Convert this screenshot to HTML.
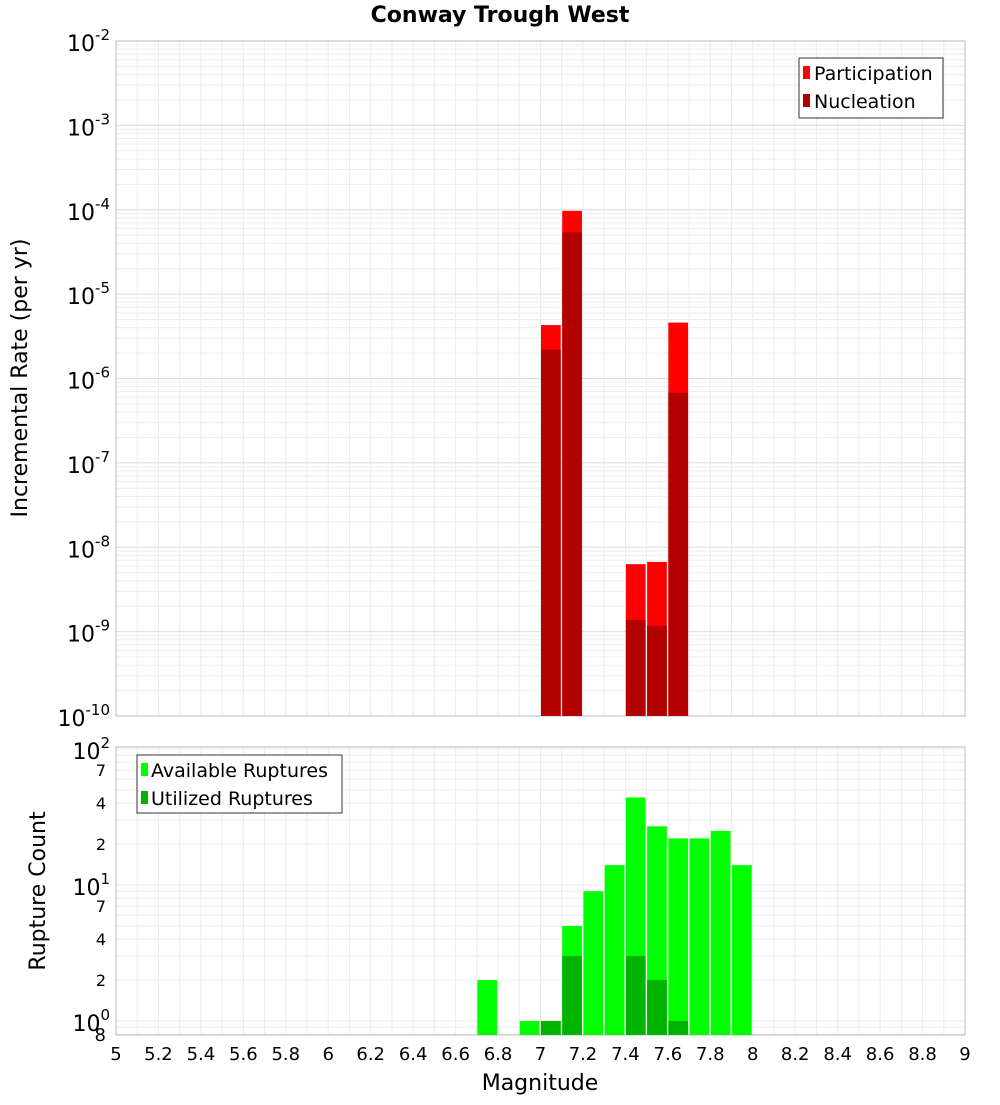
<!DOCTYPE html>
<html><head><meta charset="utf-8"><style>
body{margin:0;background:#fff;font-family:"Liberation Sans","DejaVu Sans",sans-serif}
svg text{font-family:"DejaVu Sans","Liberation Sans",sans-serif}
</style></head><body>
<svg id="c" width="1000" height="1100" xmlns="http://www.w3.org/2000/svg">
<text x="500" y="22" text-anchor="middle" font-size="22" font-weight="bold">Conway Trough West</text>
<g id="topg"></g>
<g id="botg"></g>
<text transform="translate(27,378) rotate(-90)" text-anchor="middle" font-size="22">Incremental Rate (per yr)</text>
<text transform="translate(45,891) rotate(-90)" text-anchor="middle" font-size="22">Rupture Count</text>
<text x="540" y="1090" text-anchor="middle" font-size="22">Magnitude</text>
</svg>
<script>
const rateBins=[7.0,7.1,7.4,7.5,7.6];
const participation=[4.3e-6,9.7e-5,6.3e-9,6.7e-9,4.6e-6];
const nucleation=[2.2e-6,5.4e-5,1.37e-9,1.17e-9,6.8e-7];
const countBins=[6.7,6.9,7.0,7.1,7.2,7.3,7.4,7.5,7.6,7.7,7.8,7.9];
const available=[2,1,1,5,9,14,44,27,22,22,25,14];
const utilBins=[7.0,7.1,7.4,7.5,7.6];
const utilized=[1,3,3,2,1];
const xTicks=[5,5.2,5.4,5.6,5.8,6,6.2,6.4,6.6,6.8,7,7.2,7.4,7.6,7.8,8,8.2,8.4,8.6,8.8,9];
const NS="http://www.w3.org/2000/svg";
const X0=116,X1=965;
const x=m=>X0+(m-5)/4*(X1-X0);
const T0=41,T1=716; const yT=v=>T0+(-2-Math.log10(v))/8*(T1-T0);
const B0=747,B1=1035; const yB=v=>1021-Math.log10(v)*136;
function el(p,t,a){const e=document.createElementNS(NS,t);for(const k in a)e.setAttribute(k,a[k]);p.appendChild(e);return e;}
const topG=document.getElementById('topg'),botG=document.getElementById('botg');
function grid(g,y0,y1){
  for(let i=0;i<=40;i++){const m=5+i*0.1;el(g,'line',{x1:x(m),x2:x(m),y1:y0,y2:y1,stroke:'#ebebeb','stroke-width':1});}
}
grid(topG,T0,T1);
for(let d=-10;d<-2;d++){for(let k=1;k<10;k++){const yy=yT(k*Math.pow(10,d));el(topG,'line',{x1:X0,x2:X1,y1:yy,y2:yy,stroke:k==1?'#dcdcdc':'#eeeeee','stroke-width':1});}}
el(topG,'rect',{x:X0,y:T0,width:X1-X0,height:T1-T0,fill:'none',stroke:'#bbb'});
for(let d=-10;d<=-2;d++){const t=el(topG,'text',{x:110,y:yT(Math.pow(10,d))+10,'text-anchor':'end','font-size':22});
 
 
 t.textContent='10';
 const s=el(t,'tspan',{dy:-11,'font-size':15});s.textContent=String(d);}
const bw=(X1-X0)/40;
rateBins.forEach((m,i)=>{
 const r=el(topG,'rect',{x:x(m)+0.5,y:yT(participation[i]),width:bw-1.5,height:T1-yT(participation[i]),fill:'#ff0000'});
 
 
 const n=el(topG,'rect',{x:x(m)+0.5,y:yT(nucleation[i]),width:bw-1.5,height:T1-yT(nucleation[i]),fill:'#b30000'});
 
 
});
const lg=el(topG,'g',{});


el(lg,'rect',{x:799,y:58,width:144,height:60,fill:'#fff',stroke:'#333'});
el(lg,'rect',{x:803,y:66,width:7,height:13,fill:'#ff0000'});
el(lg,'text',{x:814,y:80,'font-size':19}).textContent='Participation';
el(lg,'rect',{x:803,y:94,width:7,height:13,fill:'#b30000'});
el(lg,'text',{x:814,y:108,'font-size':19}).textContent='Nucleation';
grid(botG,B0,B1);
[0.8,0.9,1,2,3,4,5,6,7,8,9,10,20,30,40,50,60,70,80,90,100].forEach(v=>{const yy=yB(v);if(yy<B0-0.5||yy>B1)return;el(botG,'line',{x1:X0,x2:X1,y1:yy,y2:yy,stroke:'#eeeeee'});});
el(botG,'rect',{x:X0,y:B0,width:X1-X0,height:B1-B0,fill:'none',stroke:'#bbb'});
[[100,'2'],[10,'1'],[1,'0']].forEach(([v,e])=>{const t=el(botG,'text',{x:110,y:yB(v)+10,'text-anchor':'end','font-size':22});
 
 
 t.textContent='10';
 const s=el(t,'tspan',{dy:-11,'font-size':15});s.textContent=e;});
[70,40,20,7,4,2].forEach(v=>{const t=el(botG,'text',{x:106,y:yB(v)+6,'text-anchor':'end','font-size':16});t.textContent=String(v).charAt(0);});
el(botG,'text',{x:106,y:1041,'text-anchor':'end','font-size':18}).textContent='8';
countBins.forEach((m,i)=>{const r=el(botG,'rect',{x:x(m)+0.5,y:yB(available[i]),width:bw-1.5,height:B1-yB(available[i]),fill:'#00ff00'});
 
 });
utilBins.forEach((m,i)=>{const r=el(botG,'rect',{x:x(m)+0.5,y:yB(utilized[i]),width:bw-1.5,height:B1-yB(utilized[i]),fill:'#00b300'});
 
 });
const lb=el(botG,'g',{});


el(lb,'rect',{x:137,y:755,width:205,height:58,fill:'#fff',stroke:'#333'});
el(lb,'rect',{x:141,y:763,width:7,height:13,fill:'#00ff00'});
el(lb,'text',{x:151,y:777,'font-size':19}).textContent='Available Ruptures';
el(lb,'rect',{x:141,y:791,width:7,height:13,fill:'#00b300'});
el(lb,'text',{x:151,y:805,'font-size':19}).textContent='Utilized Ruptures';
xTicks.forEach(m=>{const t=el(botG,'text',{x:x(m),y:1060,'text-anchor':'middle','font-size':18});
 
 
 t.textContent=String(Math.round(m*10)/10);});
</script>
</body></html>
